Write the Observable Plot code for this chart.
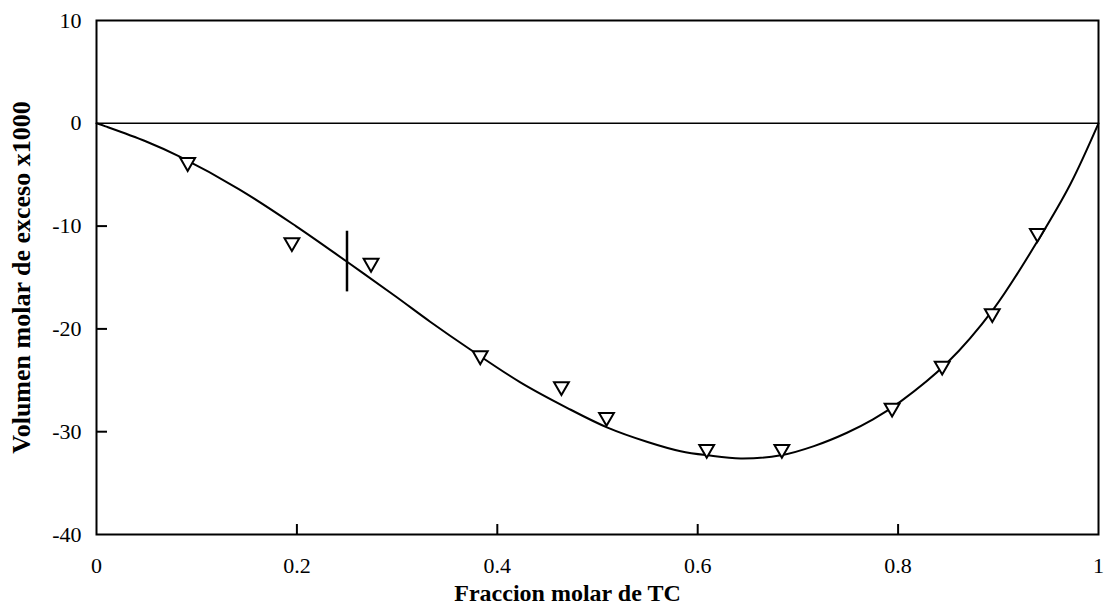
<!DOCTYPE html>
<html><head><meta charset="utf-8">
<script src="https://cdn.jsdelivr.net/npm/d3@7"></script>
<script src="https://cdn.jsdelivr.net/npm/@observablehq/plot@0.6"></script>
<style>body{margin:0;background:#fff;}</style>
</head><body><div id="chart"></div>
<script>
// Measured points (downward triangles)
const pointX = [0.091, 0.195, 0.274, 0.383, 0.464, 0.509, 0.609, 0.684, 0.794, 0.844, 0.894, 0.939];
const pointY = [-3.8, -11.6, -13.6, -22.6, -25.6, -28.6, -31.7, -31.7, -27.7, -23.6, -18.5, -10.7];
// Fitted curve
const curveX = [0, 0.009, 0.049, 0.082, 0.142, 0.199, 0.249, 0.298, 0.333, 0.373, 0.423, 0.47, 0.51, 0.55, 0.583, 0.61, 0.643, 0.683, 0.716, 0.749, 0.775, 0.802, 0.849, 0.895, 0.942, 0.972, 1.0];
const curveY = [0, -0.3, -1.75, -3.2, -6.4, -10.0, -13.4, -16.8, -19.3, -22.0, -25.2, -27.7, -29.6, -31.0, -31.9, -32.3, -32.6, -32.3, -31.4, -30.1, -28.8, -27.1, -23.3, -18.1, -11.0, -5.9, 0];
// Vertical marker segment
const markerX = [0.25];
const markerY1 = [-10.5];
const markerY2 = [-16.4];
// Ticks
const xTicks = [0, 0.2, 0.4, 0.6, 0.8, 1];
const yTicks = [10, 0, -10, -20, -30, -40];
const xInnerTicks = [0.2, 0.4, 0.6, 0.8];
const yInnerTicks = [-10, -20, -30];
const xTitle = "Fraccion molar de TC";
const yTitle = "Volumen molar de exceso x1000";

const points = pointX.map((x, i) => ({x, y: pointY[i]}));
const curve = curveX.map((x, i) => ({x, y: curveY[i]}));
const marker = markerX.map((x, i) => ({x, y1: markerY1[i], y2: markerY2[i]}));

const width = 1115, height = 612;
const mL = 96, mR = 17, mT = 20, mB = 78;
const plotW = width - mL - mR, plotH = height - mT - mB;

const chart = Plot.plot({
  width, height,
  marginLeft: mL, marginRight: mR, marginTop: mT, marginBottom: mB,
  style: {fontFamily: "'Liberation Serif', 'Times New Roman', serif", fontSize: "22px", color: "#000", background: "#fff", overflow: "visible"},
  x: {domain: [0, 1]},
  y: {domain: [-40, 10]},
  marks: [
    Plot.axisX(xTicks, {tickSize: 0, tickPadding: 23, tickFormat: d => String(d), label: null, fontSize: 22}),
    Plot.axisY(yTicks, {tickSize: 0, tickPadding: 15, tickFormat: d => String(d), label: null, fontSize: 22}),
    Plot.tickX(xInnerTicks, {x: d => d, insetTop: plotH - 10, strokeWidth: 2, stroke: "#000"}),
    Plot.tickY(yInnerTicks, {y: d => d, insetRight: plotW - 11, strokeWidth: 2, stroke: "#000"}),
    Plot.frame({strokeWidth: 2, stroke: "#000"}),
    Plot.ruleY([0], {strokeWidth: 1.5, stroke: "#000"}),
    Plot.line(curve, {x: "x", y: "y", curve: "catmull-rom", strokeWidth: 2, stroke: "#000"}),
    Plot.ruleX(marker, {x: "x", y1: "y1", y2: "y2", strokeWidth: 2.5, stroke: "#000"}),
    Plot.dot(points, {x: "x", y: "y", symbol: "triangle", rotate: 180, r: 5.5, fill: "white", stroke: "#000", strokeWidth: 2}),
    Plot.text([xTitle], {frameAnchor: "bottom", textAnchor: "middle", dx: -30, dy: 59, lineAnchor: "middle", fontWeight: "bold", fontSize: 24, fill: "#000"}),
    Plot.text([yTitle], {frameAnchor: "left", textAnchor: "middle", dx: -75, rotate: -90, lineAnchor: "middle", fontWeight: "bold", fontSize: 26, fill: "#000"})
  ]
});
document.getElementById("chart").appendChild(chart);
</script>
</body></html>
